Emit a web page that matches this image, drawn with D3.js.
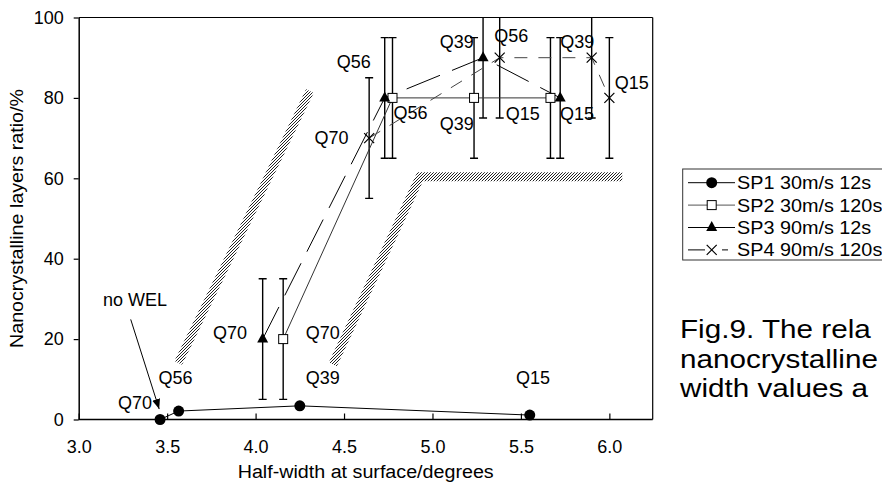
<!DOCTYPE html>
<html><head><meta charset="utf-8">
<script src="https://cdn.jsdelivr.net/npm/d3@7"></script>
<style>body{margin:0;background:#fff}svg{display:block}</style>
</head><body>
<script>
// ---- data ----
const xTicks = [3.0, 3.5, 4.0, 4.5, 5.0, 5.5, 6.0];
const yTicks = [0, 20, 40, 60, 80, 100];
const sp1X = [3.46, 3.565, 4.25, 5.55];
const sp1Y = [0, 2.1, 3.4, 1.1];
const sp2X = [4.156, 4.774, 5.235, 5.667];
const sp2Y = [20, 80, 80, 80];
const sp2E = [15, 15, 15, 15];
const sp3X = [4.04, 4.73, 5.286, 5.722];
const sp3Y = [20, 80, 90, 80];
const sp3E = [15, 15, 15, 15];
const sp4X = [4.642, 5.38, 5.90, 6.0];
const sp4Y = [70, 90, 90, 80];
const sp4E = [15, 15, 15, 15];
const seriesNames = ["SP1 30m/s 12s", "SP2 30m/s 120s", "SP3 90m/s 12s", "SP4 90m/s 120s"];
const labelText = ["Q70","Q56","Q39","Q15","Q70","Q70","Q56","Q56","Q70","Q39","Q56","Q39","Q15","Q39","Q15","Q15"];
const labelX = [3.318,3.547,4.38,5.568,3.855,4.38,4.555,4.876,4.429,5.137,5.446,5.818,6.126,5.137,5.51,5.817];
const labelY = [4.3,10.4,10.4,10.4,21.7,21.7,89.0,76.3,70.1,94.1,95.5,94.1,83.8,73.6,76.0,76.0];
const noteText = "no WEL";
const noteX = 3.318, noteY = 29.9;
const arrowX = [3.294, 3.455], arrowY = [24.9, 2.6];
const band1X = [3.563, 4.307], band1Y = [14.1, 81.7];
const band2X = [4.437, 4.93, 6.073], band2Y = [13.7, 60.4, 60.4];
const xTitle = "Half-width at surface/degrees";
const yTitle = "Nanocrystalline layers ratio/%";
const captionLines = ["Fig.9. The rela", "nanocrystalline", "width values a"];

// ---- layout ----
const W = 882, H = 482;
const L = 78.7, R = 652.7, T = 17.5, B = 419.5;
const FONT = "Arial, 'Liberation Sans', sans-serif";
const svg = d3.select("body").append("svg").attr("width", W).attr("height", H)
  .style("font-family", FONT);
const x = d3.scaleLinear().domain([3.0, 6.245]).range([L, R]);
const y = d3.scaleLinear().domain([0, 100]).range([B, T]);

const defs = svg.append("defs");
const pat = defs.append("pattern").attr("id", "hatch").attr("patternUnits", "userSpaceOnUse")
  .attr("width", 3).attr("height", 3);
pat.append("rect").attr("width", 3).attr("height", 3).attr("fill", "#fff");
pat.append("path").attr("d", "M-1,1 L1,-1 M0,3 L3,0 M2,4 L4,2").attr("stroke", "#222").attr("stroke-width", 1);
defs.append("clipPath").attr("id", "plotclip").append("rect")
  .attr("x", L).attr("y", T).attr("width", R - L).attr("height", B - T);
defs.append("marker").attr("id", "arrow").attr("viewBox", "0 0 10 10").attr("refX", 10).attr("refY", 5)
  .attr("markerWidth", 10).attr("markerHeight", 10).attr("markerUnits", "userSpaceOnUse").attr("orient", "auto")
  .append("path").attr("d", "M0,1 L10,5 L0,9 Z").attr("fill", "#000");

// frame
svg.append("line").attr("x1", L).attr("x2", R).attr("y1", T).attr("y2", T).attr("stroke", "#000").attr("stroke-width", 1.2);
svg.append("line").attr("x1", R).attr("x2", R).attr("y1", T).attr("y2", B).attr("stroke", "#000").attr("stroke-width", 1.2);

// bands
const lineGen = d3.line().x(d => x(d[0])).y(d => y(d[1]));
svg.append("path").attr("d", lineGen(d3.zip(band1X, band1Y))).attr("fill", "none")
  .attr("stroke", "url(#hatch)").attr("stroke-width", 8.5).attr("stroke-linecap", "butt");
svg.append("path").attr("d", lineGen(d3.zip(band2X, band2Y))).attr("fill", "none")
  .attr("stroke", "url(#hatch)").attr("stroke-width", 9).attr("stroke-linecap", "butt").attr("stroke-linejoin", "miter");

// axes
const yAxis = svg.append("g").attr("transform", `translate(${L},0)`)
  .call(d3.axisLeft(y).tickValues(yTicks).tickSizeInner(5).tickSizeOuter(0).tickPadding(10).tickFormat(d3.format("d")));
const xAxis = svg.append("g").attr("transform", `translate(0,${B})`)
  .call(d3.axisBottom(x).tickValues(xTicks).tickSizeInner(-6).tickSizeOuter(0).tickPadding(21).tickFormat(d3.format(".1f")));
[xAxis, yAxis].forEach(g => {
  g.selectAll("text").attr("font-size", 18).attr("font-family", FONT).attr("fill", "#000");
  g.selectAll("line").attr("stroke", "#000").attr("stroke-width", 1.2);
  g.select(".domain").attr("stroke", "#000").attr("stroke-width", 1.5);
});
xAxis.select(".domain").attr("d", `M${L},0H${R}`);

// data layer
const plot = svg.append("g").attr("clip-path", "url(#plotclip)");
function errorBars(xs, ys, es) {
  const g = plot.append("g").attr("stroke", "#000").attr("stroke-width", 1.4);
  xs.forEach((xv, i) => {
    const lo = ys[i] - es[i], hi = ys[i] + es[i];
    g.append("line").attr("x1", x(xv)).attr("x2", x(xv)).attr("y1", y(lo)).attr("y2", y(hi));
    g.append("line").attr("x1", x(xv) - 4).attr("x2", x(xv) + 4).attr("y1", y(lo)).attr("y2", y(lo));
    g.append("line").attr("x1", x(xv) - 4).attr("x2", x(xv) + 4).attr("y1", y(hi)).attr("y2", y(hi));
  });
}
errorBars(sp2X, sp2Y, sp2E);
errorBars(sp3X, sp3Y, sp3E);
errorBars(sp4X, sp4Y, sp4E);

plot.append("path").attr("d", lineGen(d3.zip(sp1X, sp1Y))).attr("fill", "none").attr("stroke", "#000").attr("stroke-width", 1);
plot.append("path").attr("d", lineGen(d3.zip(sp2X, sp2Y))).attr("fill", "none").attr("stroke", "#333").attr("stroke-width", 1);
plot.append("path").attr("d", lineGen(d3.zip(sp3X, sp3Y))).attr("fill", "none").attr("stroke", "#000").attr("stroke-width", 1).attr("stroke-dasharray", "36,13");
plot.append("path").attr("d", lineGen(d3.zip(sp4X, sp4Y))).attr("fill", "none").attr("stroke", "#444").attr("stroke-width", 1).attr("stroke-dasharray", "13,11");

const triPath = "M0,-6.5 L5.5,3.5 L-5.5,3.5 Z";
const xPath = "M-5,-5 L5,5 M-5,5 L5,-5";
function drawMarker(g, kind, cx, cy) {
  if (kind === 0) g.append("circle").attr("cx", cx).attr("cy", cy).attr("r", 5.5).attr("fill", "#000");
  else if (kind === 1) g.append("rect").attr("x", cx - 4.5).attr("y", cy - 4.5).attr("width", 9).attr("height", 9).attr("fill", "#fff").attr("stroke", "#000").attr("stroke-width", 1);
  else if (kind === 2) g.append("path").attr("d", triPath).attr("transform", `translate(${cx},${cy})`).attr("fill", "#000");
  else g.append("path").attr("d", xPath).attr("transform", `translate(${cx},${cy})`).attr("stroke", "#000").attr("stroke-width", 1.2).attr("fill", "none");
}
const mk = svg.append("g");
[[sp1X, sp1Y], [sp2X, sp2Y], [sp3X, sp3Y], [sp4X, sp4Y]].forEach(([xs, ys], k) => {
  xs.forEach((xv, i) => drawMarker(mk, k, x(xv), y(ys[i])));
});

// labels
const lab = svg.append("g").attr("font-size", 18).attr("text-anchor", "middle").attr("fill", "#000");
labelText.forEach((t, i) => {
  lab.append("text").attr("x", x(labelX[i])).attr("y", y(labelY[i])).attr("dy", "0.35em").text(t);
});
lab.append("text").attr("x", x(noteX)).attr("y", y(noteY)).attr("dy", "0.35em").text(noteText);
svg.append("line").attr("x1", x(arrowX[0])).attr("y1", y(arrowY[0])).attr("x2", x(arrowX[1])).attr("y2", y(arrowY[1]))
  .attr("stroke", "#000").attr("stroke-width", 1).attr("marker-end", "url(#arrow)");

// axis titles
svg.append("text").attr("x", (L + R) / 2).attr("y", 478).attr("text-anchor", "middle")
  .attr("font-size", 18).attr("textLength", 256).attr("lengthAdjust", "spacingAndGlyphs").text(xTitle);
svg.append("text").attr("transform", `translate(23,${(T + B) / 2}) rotate(-90)`).attr("text-anchor", "middle")
  .attr("font-size", 18).attr("textLength", 259).attr("lengthAdjust", "spacingAndGlyphs").text(yTitle);

// legend
const lg = svg.append("g");
lg.append("rect").attr("x", 682.7).attr("y", 169).attr("width", 260).attr("height", 91)
  .attr("fill", "#fff").attr("stroke", "#333").attr("stroke-width", 1);
const legStroke = ["#000", "#555", "#000", "#000"];
const legDash = [null, null, null, "17,17,6,30"];
seriesNames.forEach((name, i) => {
  const cy = 182.7 + i * 22.4;
  const ln = lg.append("line").attr("x1", 688).attr("x2", 735).attr("y1", cy).attr("y2", cy)
    .attr("stroke", legStroke[i]).attr("stroke-width", 1);
  if (legDash[i]) ln.attr("stroke-dasharray", legDash[i]);
  drawMarker(lg, i, 711.7, cy);
  const t = lg.append("text").attr("x", 737).attr("y", cy).attr("dy", "0.36em").attr("font-size", 18).text(name);
  const w = t.node().getComputedTextLength();
  t.attr("textLength", w * 1.1).attr("lengthAdjust", "spacingAndGlyphs");
});

// caption (one text block, three lines)
const cap = svg.append("text").attr("font-size", 26.5).attr("fill", "#000")
  .attr("transform", "translate(680,0) scale(1.12,1)");
captionLines.forEach((s, i) => {
  cap.append("tspan").attr("x", 0).attr("y", 338 + i * 29.6).text(s);
});
</script>
</body></html>
